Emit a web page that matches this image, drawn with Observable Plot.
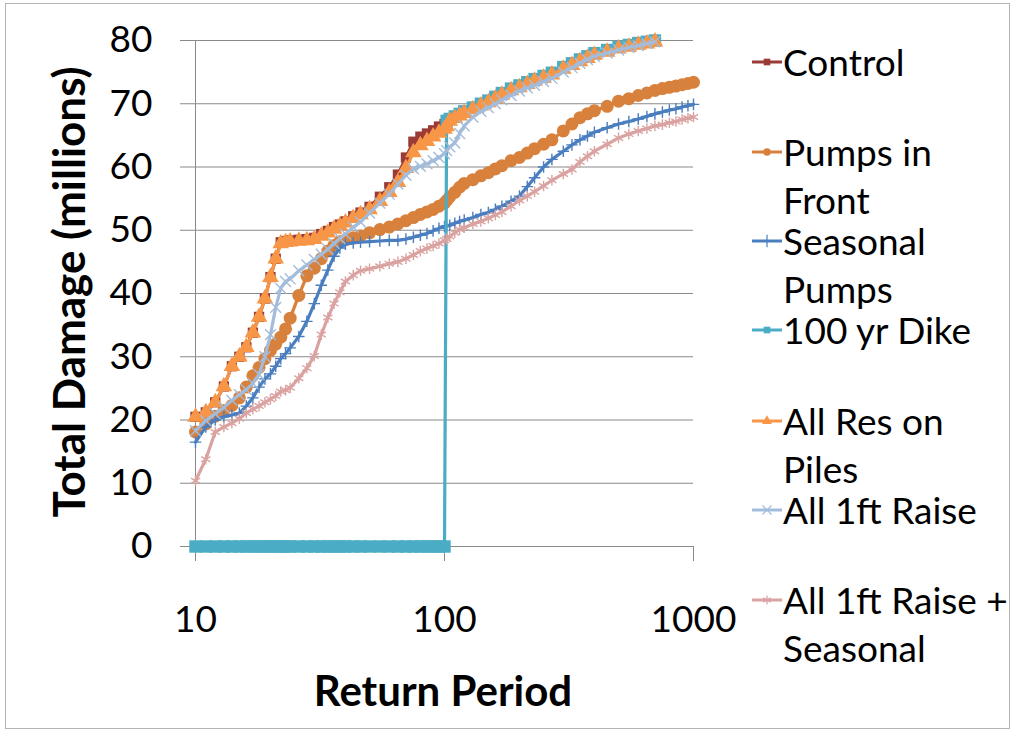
<!DOCTYPE html>
<html><head><meta charset="utf-8">
<script src="https://cdn.jsdelivr.net/npm/d3@7"></script>
<script src="https://cdn.jsdelivr.net/npm/@observablehq/plot@0.6"></script>
<style>
body{margin:0;background:#fff;font-family:Lato,sans-serif;}
#wrap{position:relative;width:1013px;height:732px;overflow:hidden;background:#fff;}
#frame{position:absolute;left:5px;top:3px;width:1005px;height:726px;border:1px solid #b4b4b4;box-sizing:border-box;}
#chart{position:absolute;left:0;top:0;}
.item{position:absolute;left:750px;font-size:37px;line-height:48px;color:#000;white-space:nowrap;}
.item svg{position:absolute;left:0;top:0;}
.item .txt{margin-left:33px;}
.ytitle{position:absolute;left:68px;top:292px;transform:translate(-50%,-50%) rotate(-90deg);font-weight:bold;font-size:44px;white-space:nowrap;}
.xtitle{position:absolute;left:443px;top:690px;transform:translate(-50%,-50%);font-weight:bold;font-size:42px;white-space:nowrap;}
</style></head>
<body><div id="wrap"><div id="frame"></div><div id="chart"></div>
<div class="ytitle">Total Damage (millions)</div>
<div class="xtitle">Return Period</div>
<div id="legend"></div></div>
<script>
const returnPeriod = [10,11,12,13,14,15,16,17,18,19,20,21,22,23,24,26,28,30,32,34,36,38,40,43,46,50,55,60,65,70,75,80,85,90,95,100,102,105,110,115,120,130,140,150,160,170,185,200,215,230,250,270,300,325,350,375,400,450,500,550,600,650,700,750,800,850,900,950,1000];

const control = [20.5,21.2,22.8,25.3,28.5,30.0,31.5,33.8,36.3,39.2,42.6,45.5,48.1,48.3,48.4,
 48.5,48.6,48.8,49.4,49.9,50.5,50.9,51.4,
 52.2,52.8,53.7,55.3,56.8,58.8,61.5,64.0,64.8,65.3,65.8,66.4,66.8,
 67.0,67.6,68.0,68.4,68.8,
 69.4,70.0,70.5,71.1,71.7,72.4,72.9,73.4,73.9,74.4,74.9,
 75.8,76.4,77.0,77.5,78.0,
 78.5,79.0,79.3,79.6,79.8,80.0,
 null,null,null,null,null,null];

const pumpsInFront = [18.1,19.4,20.6,21.5,22.3,23.5,25.2,27.0,28.3,29.7,31.0,32.0,33.1,34.4,36.1,
 39.7,42.8,44.0,45.5,46.7,47.6,48.2,48.5,
 48.8,49.1,49.6,50.1,50.5,51.0,51.5,52.0,52.5,52.9,53.3,53.8,54.3,
 54.7,55.3,56.0,56.8,57.4,
 58.0,58.6,59.1,59.7,60.2,61.0,61.5,62.2,62.9,63.6,64.3,
 65.7,66.8,67.8,68.4,68.9,
 69.6,70.4,70.8,71.3,71.7,72.1,
 72.4,72.6,72.8,73.0,73.2,73.4];

const seasonalPumps = [16.5,18.9,20.0,20.5,20.8,21.1,22.2,23.5,25.2,26.5,27.3,28.5,29.7,30.5,31.4,
 33.2,35.6,38.4,41.3,43.7,45.9,47.2,47.8,
 48.0,48.1,48.2,48.3,48.4,48.4,48.6,48.9,49.2,49.5,49.9,50.3,50.6,
 50.7,50.8,51.1,51.4,51.6,
 52.0,52.5,52.8,53.3,53.8,54.6,55.4,56.9,58.3,60.0,61.2,
 62.5,63.5,64.3,64.9,65.5,
 66.2,66.8,67.2,67.6,68.0,68.4,
 68.7,69.0,69.2,69.5,69.7,69.9];

const dike100yr = [0,0,0,0,0,0,0,0,0,0,0,0,0,0,0,
 0,0,0,0,0,0,0,0,
 0,0,0,0,0,0,0,0,0,0,0,0,0,
 67.3,67.6,68.0,68.4,68.8,
 69.4,70.0,70.5,71.1,71.7,72.4,72.9,73.4,73.9,74.4,74.9,
 75.8,76.4,77.0,77.5,78.0,
 78.5,79.0,79.3,79.6,79.8,80.0,
 null,null,null,null,null,null];

const resOnPiles = [20.5,21.2,22.8,25.3,28.5,30.0,31.5,33.8,36.3,39.2,42.6,45.5,47.9,48.1,48.2,
 48.3,48.4,48.6,49.1,49.6,50.2,50.7,51.2,
 51.9,52.5,53.3,54.6,56.0,57.6,59.8,62.3,63.4,64.1,64.8,65.4,66.0,
 66.4,67.3,67.7,68.1,68.5,
 69.1,69.7,70.2,70.8,71.4,72.1,72.6,73.1,73.6,74.1,74.6,
 75.5,76.1,76.7,77.2,77.7,
 78.2,78.7,79.0,79.3,79.5,79.8,
 null,null,null,null,null,null];

const raise1ft = [18.3,19.9,21.0,22.0,23.1,24.0,24.8,25.8,27.2,30.0,33.5,37.8,40.8,41.9,42.3,
 43.6,44.5,45.4,46.2,47.0,47.9,48.7,49.4,
 50.5,51.3,52.7,54.3,55.7,57.3,58.7,59.7,60.1,60.5,61.0,61.5,62.1,
 62.6,63.2,63.8,65.3,66.5,
 67.9,68.8,69.4,70.0,70.6,71.3,72.0,72.5,72.9,73.5,74.0,
 75.0,75.7,76.4,77.0,77.5,
 78.0,78.5,78.9,79.2,79.5,79.8,
 null,null,null,null,null,null];

const raise1ftSeasonal = [10.4,13.8,18.1,18.9,19.5,20.2,21.1,21.7,22.2,22.8,23.3,23.8,24.5,24.7,25.1,
 26.6,28.2,30.1,33.5,36.2,38.4,40.2,41.9,
 42.9,43.6,43.9,44.3,44.7,45.0,45.5,46.1,46.7,47.1,47.5,47.9,48.4,
 48.6,49.0,49.6,50.1,50.4,
 51.0,51.4,51.9,52.4,52.9,53.8,54.7,55.4,56.1,57.0,57.9,
 58.9,59.6,60.8,61.7,62.5,
 63.6,64.6,65.2,65.7,66.1,66.5,
 66.7,67.0,67.2,67.5,67.7,67.9];

const yTicks = [0,10,20,30,40,50,60,70,80];
const xTicks = [10,100,1000];

const series = [
  {name:"Control", lines:["Control"], values:control, color:"#9B3B37", symbol:"square", r:5.8, filled:true},
  {name:"Pumps in Front", lines:["Pumps in","Front"], values:pumpsInFront, color:"#D8813C", symbol:"circle", r:6.5, filled:true},
  {name:"Seasonal Pumps", lines:["Seasonal","Pumps"], values:seasonalPumps, color:"#4A7EBF", symbol:"plus", r:3.8, filled:false},
  {name:"100 yr Dike", lines:["100 yr Dike"], values:dike100yr, color:"#4BACC6", symbol:"square", r:7.0, filled:true},
  {name:"All Res on Piles", lines:["All Res on","Piles"], values:resOnPiles, color:"#F79646", symbol:"triangle", r:6.2, filled:true},
  {name:"All 1ft Raise", lines:["All 1ft Raise"], values:raise1ft, color:"#A3BCDB", symbol:"times", r:5.0, filled:false},
  {name:"All 1ft Raise + Seasonal", lines:["All 1ft Raise +","Seasonal"], values:raise1ftSeasonal, color:"#DAA2A0", symbol:"asterisk", r:5.0, filled:false}
];
const legendY = [62,152,241,330,421,510,600];

const gray = "#8a8a8a";
const marks = [
  Plot.gridY(yTicks, {stroke:gray, strokeOpacity:1}),
  Plot.ruleX([10], {stroke:gray}),
  Plot.ruleY([0], {stroke:gray}),
  Plot.axisY({ticks:yTicks, tickSize:15, tickPadding:28, stroke:gray, fill:"black", fontSize:37, label:null}),
  Plot.axisX({ticks:xTicks, tickFormat:d=>String(d), tickSize:15, tickPadding:44, stroke:gray, fill:"black", fontSize:37, label:null})
];
for (const s of series) {
  const rows = returnPeriod.map((t,i)=>({t, v:s.values[i]})).filter(d=>d.v!=null);
  marks.push(Plot.line(rows, {x:"t", y:"v", stroke:s.color, strokeWidth:3.2}));
  if (s.filled) marks.push(Plot.dot(rows, {x:"t", y:"v", symbol:s.symbol, r:s.r, fill:s.color, stroke:"none"}));
  else marks.push(Plot.dot(rows, {x:"t", y:"v", symbol:s.symbol, r:s.r, stroke:s.color, strokeWidth:1.4}));
}

const chart = Plot.plot({
  width:1013, height:732,
  marginLeft:195, marginRight:320, marginTop:40, marginBottom:186,
  x:{type:"log", domain:[10,1000]},
  y:{domain:[0,80]},
  style:{fontFamily:"Lato, sans-serif", fontSize:"37px", color:"black", background:"transparent", overflow:"visible"},
  marks
});
document.getElementById("chart").appendChild(chart);

const symMap = {square:d3.symbolSquare, circle:d3.symbolCircle, plus:d3.symbolPlus, triangle:d3.symbolTriangle, times:d3.symbolTimes, asterisk:d3.symbolAsterisk};
const legend = d3.select("#legend");
series.forEach((s,i)=>{
  const item = legend.append("div").attr("class","item").style("top",(legendY[i]-24)+"px");
  const svg = item.append("svg").attr("width",34).attr("height",48);
  svg.append("line").attr("x1",2).attr("x2",32).attr("y1",24).attr("y2",24).attr("stroke",s.color).attr("stroke-width",3);
  const p = svg.append("path").attr("transform","translate(17,24)")
    .attr("d", d3.symbol(symMap[s.symbol], s.filled ? 44 : 55)());
  if (s.filled) p.attr("fill", s.color); else p.attr("fill","none").attr("stroke", s.color).attr("stroke-width",1.2);
  const txt = item.append("div").attr("class","txt");
  s.lines.forEach(l=>txt.append("div").text(l));
});
</script>
</body></html>
